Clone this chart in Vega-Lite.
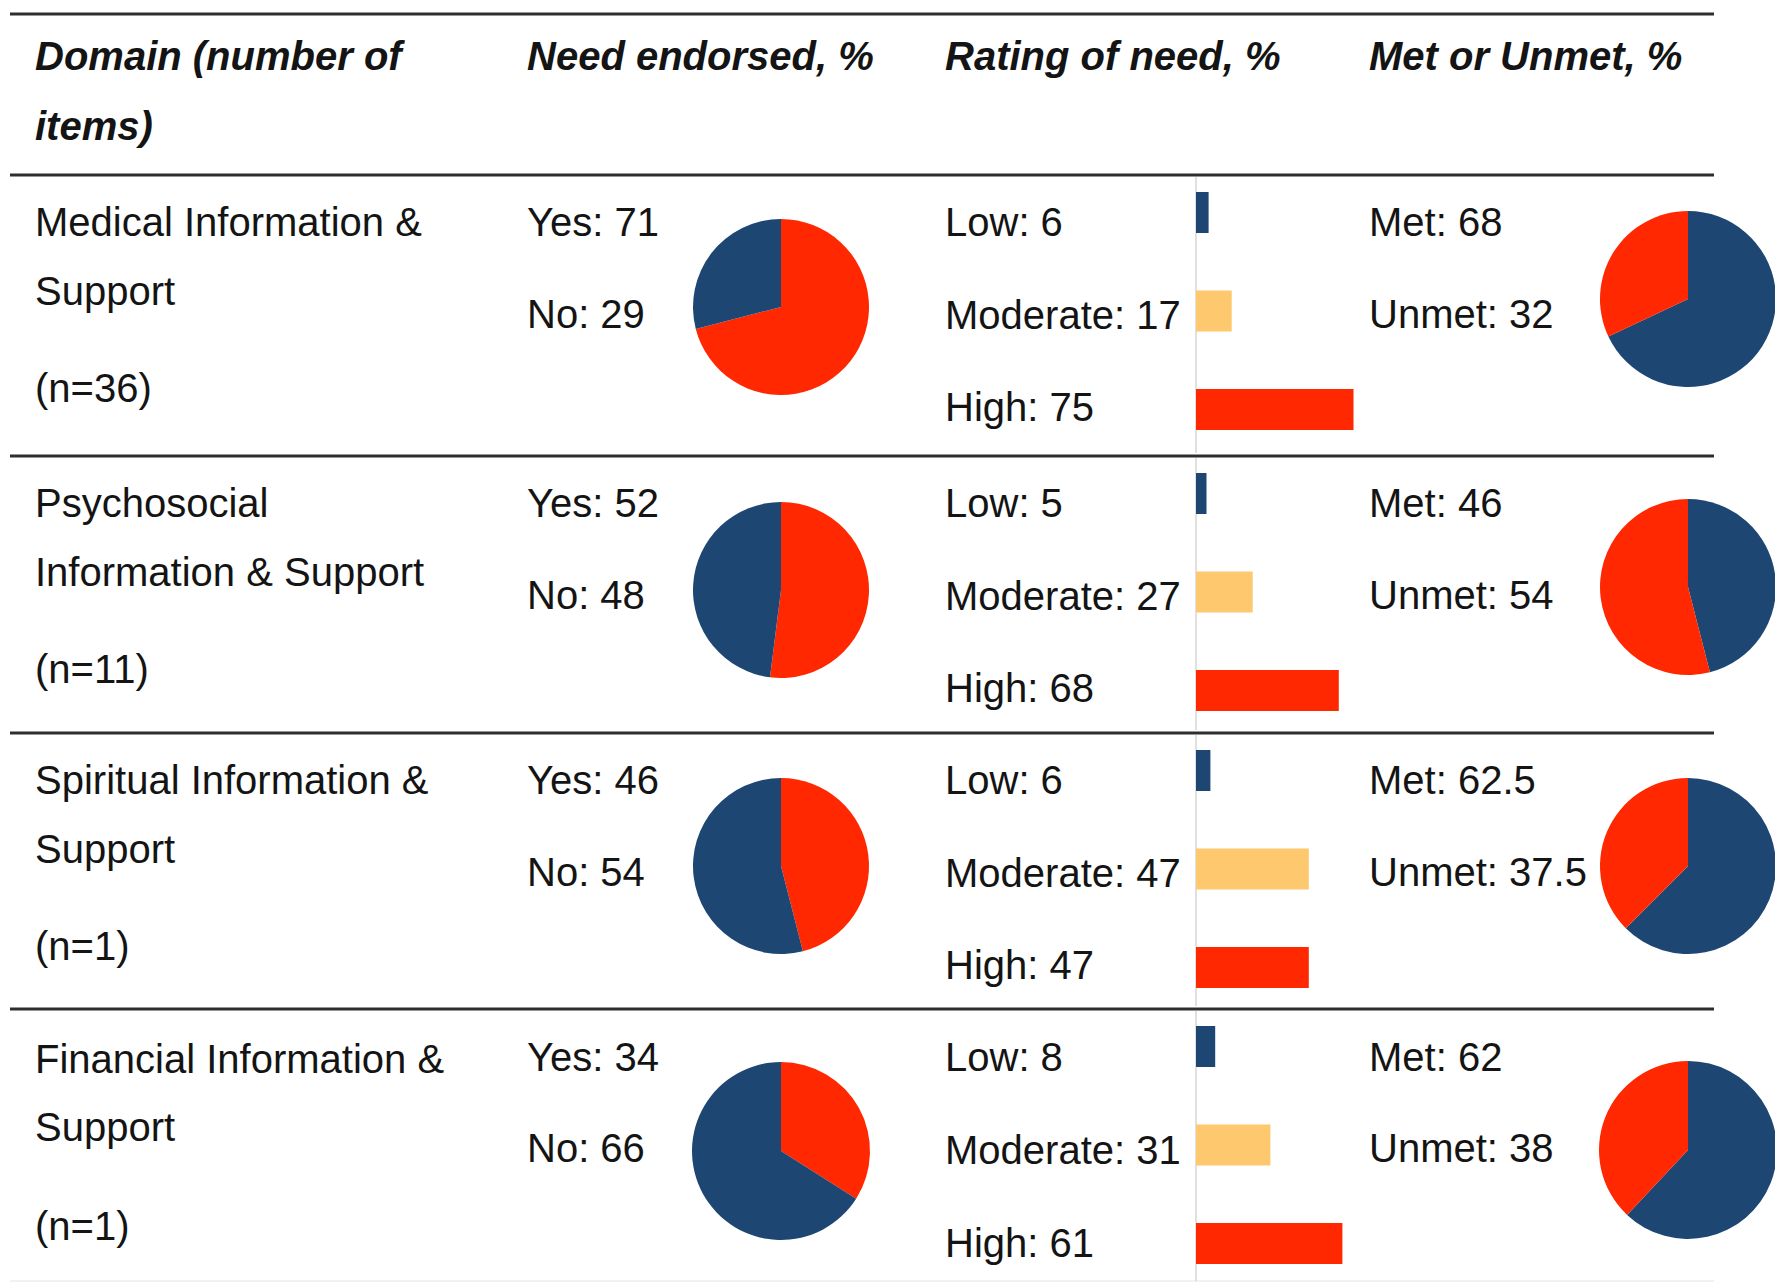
{
  "$schema": "https://vega.github.io/schema/vega-lite/v6.json",
  "padding": {"left": 8, "top": 12, "right": 0, "bottom": 0},
  "background": "white",
  "config": {
    "view": {"stroke": null},
    "concat": {"spacing": 0},
    "text": {"font": "Liberation Sans", "fontSize": 40, "color": "#141414", "align": "left", "baseline": "middle"}
  },
  "datasets": {
    "one": [{}],
    "header": [
      {"col": "domain", "line": "first", "text": "Domain (number of"},
      {"col": "domain", "line": "second", "text": "items)"},
      {"col": "need", "line": "first", "text": "Need endorsed, %"},
      {"col": "rating", "line": "first", "text": "Rating of need, %"},
      {"col": "met", "line": "first", "text": "Met or Unmet, %"}
    ],
    "domains": [
      {"row": 1, "part": "title1", "text": "Medical Information &"},
      {"row": 1, "part": "title2", "text": "Support"},
      {"row": 1, "part": "count", "text": "(n=36)"},
      {"row": 2, "part": "title1", "text": "Psychosocial"},
      {"row": 2, "part": "title2", "text": "Information & Support"},
      {"row": 2, "part": "count", "text": "(n=11)"},
      {"row": 3, "part": "title1", "text": "Spiritual Information &"},
      {"row": 3, "part": "title2", "text": "Support"},
      {"row": 3, "part": "count", "text": "(n=1)"},
      {"row": 4, "part": "title1", "text": "Financial Information &"},
      {"row": 4, "part": "title2", "text": "Support"},
      {"row": 4, "part": "count", "text": "(n=1)"}
    ],
    "endorsed": [
      {"row": 1, "answer": "Yes", "value": 71, "label": "Yes: 71"},
      {"row": 1, "answer": "No", "value": 29, "label": "No: 29"},
      {"row": 2, "answer": "Yes", "value": 52, "label": "Yes: 52"},
      {"row": 2, "answer": "No", "value": 48, "label": "No: 48"},
      {"row": 3, "answer": "Yes", "value": 46, "label": "Yes: 46"},
      {"row": 3, "answer": "No", "value": 54, "label": "No: 54"},
      {"row": 4, "answer": "Yes", "value": 34, "label": "Yes: 34"},
      {"row": 4, "answer": "No", "value": 66, "label": "No: 66"}
    ],
    "rating": [
      {"row": 1, "level": "Low", "value": 6, "label": "Low: 6"},
      {"row": 1, "level": "Moderate", "value": 17, "label": "Moderate: 17"},
      {"row": 1, "level": "High", "value": 75, "label": "High: 75"},
      {"row": 2, "level": "Low", "value": 5, "label": "Low: 5"},
      {"row": 2, "level": "Moderate", "value": 27, "label": "Moderate: 27"},
      {"row": 2, "level": "High", "value": 68, "label": "High: 68"},
      {"row": 3, "level": "Low", "value": 6, "label": "Low: 6"},
      {"row": 3, "level": "Moderate", "value": 47, "label": "Moderate: 47"},
      {"row": 3, "level": "High", "value": 47, "label": "High: 47"},
      {"row": 4, "level": "Low", "value": 8, "label": "Low: 8"},
      {"row": 4, "level": "Moderate", "value": 31, "label": "Moderate: 31"},
      {"row": 4, "level": "High", "value": 61, "label": "High: 61"}
    ],
    "met": [
      {"row": 1, "status": "Met", "value": 68, "label": "Met: 68"},
      {"row": 1, "status": "Unmet", "value": 32, "label": "Unmet: 32"},
      {"row": 2, "status": "Met", "value": 46, "label": "Met: 46"},
      {"row": 2, "status": "Unmet", "value": 54, "label": "Unmet: 54"},
      {"row": 3, "status": "Met", "value": 62.5, "label": "Met: 62.5"},
      {"row": 3, "status": "Unmet", "value": 37.5, "label": "Unmet: 37.5"},
      {"row": 4, "status": "Met", "value": 62, "label": "Met: 62"},
      {"row": 4, "status": "Unmet", "value": 38, "label": "Unmet: 38"}
    ]
  },
  "spacing": 0,
  "resolve": {"scale": {"x": "independent", "y": "independent"}},
  "vconcat": [
    {
      "spacing": 0, "bounds": "flush",
      "resolve": {"scale": {"x": "independent", "y": "independent"}},
      "hconcat": [
        {"width": 497, "height": 159, "layer": [
          {"data": {"name": "one"}, "mark": {"type": "rule", "color": "#2e2e2e", "strokeWidth": 3}, "encoding": {"x": {"value": 0}, "x2": {"value": "width"}, "y": {"value": 0}}},
          {"data": {"name": "header"}, "transform": [{"filter": "datum.col === 'domain'"}], "mark": {"type": "text", "dx": 25, "fontStyle": "italic", "fontWeight": "bold"}, "encoding": {"x": {"value": 0}, "y": {"field": "line", "type": "ordinal", "scale": {"domain": ["first", "second"], "range": [44, 114], "padding": 0}, "axis": null}, "text": {"field": "text"}}}
        ]},
        {"width": 418, "height": 159, "layer": [
          {"data": {"name": "one"}, "mark": {"type": "rule", "color": "#2e2e2e", "strokeWidth": 3}, "encoding": {"x": {"value": 0}, "x2": {"value": "width"}, "y": {"value": 0}}},
          {"data": {"name": "header"}, "transform": [{"filter": "datum.col === 'need'"}], "mark": {"type": "text", "dx": 20, "fontStyle": "italic", "fontWeight": "bold"}, "encoding": {"x": {"value": 0}, "y": {"field": "line", "type": "ordinal", "scale": {"domain": ["first", "second"], "range": [44, 114], "padding": 0}, "axis": null}, "text": {"field": "text"}}}
        ]},
        {"width": 439, "height": 159, "layer": [
          {"data": {"name": "one"}, "mark": {"type": "rule", "color": "#2e2e2e", "strokeWidth": 3}, "encoding": {"x": {"value": 0}, "x2": {"value": "width"}, "y": {"value": 0}}},
          {"data": {"name": "header"}, "transform": [{"filter": "datum.col === 'rating'"}], "mark": {"type": "text", "dx": 20, "fontStyle": "italic", "fontWeight": "bold"}, "encoding": {"x": {"value": 0}, "y": {"field": "line", "type": "ordinal", "scale": {"domain": ["first", "second"], "range": [44, 114], "padding": 0}, "axis": null}, "text": {"field": "text"}}}
        ]},
        {"width": 350, "height": 159, "layer": [
          {"data": {"name": "one"}, "mark": {"type": "rule", "color": "#2e2e2e", "strokeWidth": 3}, "encoding": {"x": {"value": 0}, "x2": {"value": "width"}, "y": {"value": 0}}},
          {"data": {"name": "header"}, "transform": [{"filter": "datum.col === 'met'"}], "mark": {"type": "text", "dx": 5, "fontStyle": "italic", "fontWeight": "bold"}, "encoding": {"x": {"value": 0}, "y": {"field": "line", "type": "ordinal", "scale": {"domain": ["first", "second"], "range": [44, 114], "padding": 0}, "axis": null}, "text": {"field": "text"}}}
        ]}
      ]
    },
    {
      "spacing": 0, "bounds": "flush",
      "resolve": {"scale": {"x": "independent", "y": "independent"}},
      "hconcat": [
        {"width": 497, "height": 278, "resolve": {"scale": {"y": "independent"}}, "layer": [
          {"data": {"name": "one"}, "mark": {"type": "rule", "color": "#2e2e2e", "strokeWidth": 3}, "encoding": {"x": {"value": 0}, "x2": {"value": "width"}, "y": {"value": 0}}},
          {"data": {"name": "domains"}, "transform": [{"filter": "datum.row === 1 && datum.part !== 'count'"}], "mark": {"type": "text", "dx": 25}, "encoding": {"x": {"value": 0}, "y": {"field": "part", "type": "ordinal", "scale": {"domain": ["title1", "title2"], "range": [49, 118], "padding": 0}, "axis": null}, "text": {"field": "text"}}},
          {"data": {"name": "domains"}, "transform": [{"filter": "datum.row === 1 && datum.part === 'count'"}], "mark": {"type": "text", "dx": 25}, "encoding": {"x": {"value": 0}, "y": {"field": "part", "type": "ordinal", "scale": {"domain": ["count"], "range": [215, 215], "padding": 0}, "axis": null}, "text": {"field": "text"}}}
        ]},
        {"width": 418, "height": 278, "layer": [
          {"data": {"name": "one"}, "mark": {"type": "rule", "color": "#2e2e2e", "strokeWidth": 3}, "encoding": {"x": {"value": 0}, "x2": {"value": "width"}, "y": {"value": 0}}},
          {"data": {"name": "endorsed"}, "transform": [{"filter": "datum.row === 1"}], "mark": {"type": "text", "dx": 20}, "encoding": {"x": {"value": 0}, "y": {"field": "answer", "type": "ordinal", "scale": {"domain": ["Yes", "No"], "range": [49, 141], "padding": 0}, "axis": null}, "text": {"field": "label"}}},
          {"data": {"name": "endorsed"}, "transform": [{"filter": "datum.row === 1"}], "mark": {"type": "arc", "outerRadius": 88, "x": 274, "y": 132}, "encoding": {"theta": {"field": "value", "type": "quantitative", "stack": true, "scale": {"domain": [0, 100]}}, "color": {"field": "answer", "type": "nominal", "scale": {"domain": ["Yes", "No", "Low", "Moderate", "High", "Met", "Unmet"], "range": ["#ff2800", "#1e4673", "#1e4673", "#fdc86e", "#ff2800", "#1e4673", "#ff2800"]}, "legend": null}, "order": {"field": "answer", "sort": "descending"}}}
        ]},
        {"width": 271, "height": 278, "layer": [
          {"data": {"name": "one"}, "mark": {"type": "rule", "color": "#2e2e2e", "strokeWidth": 3}, "encoding": {"x": {"value": 0}, "x2": {"value": "width"}, "y": {"value": 0}}},
          {"data": {"name": "rating"}, "transform": [{"filter": "datum.row === 1"}], "mark": {"type": "text", "dx": 20}, "encoding": {"x": {"value": 0}, "y": {"field": "level", "type": "ordinal", "scale": {"domain": ["Low", "Moderate", "High"], "range": [49, 234], "padding": 0}, "axis": null}, "text": {"field": "label"}}}
        ]},
        {"width": 168, "height": 278, "layer": [
          {"data": {"name": "one"}, "mark": {"type": "rule", "color": "#2e2e2e", "strokeWidth": 3}, "encoding": {"x": {"value": 0}, "x2": {"value": "width"}, "y": {"value": 0}}},
          {"data": {"name": "one"}, "mark": {"type": "rule", "color": "#d6d6d6", "strokeWidth": 1.5}, "encoding": {"x": {"value": 0}, "y": {"value": 2}, "y2": {"value": "height"}}},
          {"data": {"name": "rating"}, "transform": [{"filter": "datum.row === 1"}], "mark": {"type": "bar"}, "encoding": {"x": {"field": "value", "type": "quantitative", "scale": {"domain": [0, 80]}, "axis": null}, "y": {"field": "level", "type": "nominal", "scale": {"domain": ["Low", "Moderate", "High"], "range": [17, 255], "paddingInner": 0.584, "paddingOuter": 0}, "axis": null}, "color": {"field": "level", "type": "nominal", "scale": {"domain": ["Yes", "No", "Low", "Moderate", "High", "Met", "Unmet"], "range": ["#ff2800", "#1e4673", "#1e4673", "#fdc86e", "#ff2800", "#1e4673", "#ff2800"]}, "legend": null}}}
        ]},
        {"width": 350, "height": 278, "layer": [
          {"data": {"name": "one"}, "mark": {"type": "rule", "color": "#2e2e2e", "strokeWidth": 3}, "encoding": {"x": {"value": 0}, "x2": {"value": "width"}, "y": {"value": 0}}},
          {"data": {"name": "met"}, "transform": [{"filter": "datum.row === 1"}], "mark": {"type": "text", "dx": 5}, "encoding": {"x": {"value": 0}, "y": {"field": "status", "type": "ordinal", "scale": {"domain": ["Met", "Unmet"], "range": [49, 141], "padding": 0}, "axis": null}, "text": {"field": "label"}}},
          {"data": {"name": "met"}, "transform": [{"filter": "datum.row === 1"}], "mark": {"type": "arc", "outerRadius": 88, "x": 324, "y": 124}, "encoding": {"theta": {"field": "value", "type": "quantitative", "stack": true, "scale": {"domain": [0, 100]}}, "color": {"field": "status", "type": "nominal", "scale": {"domain": ["Yes", "No", "Low", "Moderate", "High", "Met", "Unmet"], "range": ["#ff2800", "#1e4673", "#1e4673", "#fdc86e", "#ff2800", "#1e4673", "#ff2800"]}, "legend": null}, "order": {"field": "status", "sort": "ascending"}}}
        ]}
      ]
    },
    {
      "spacing": 0, "bounds": "flush",
      "resolve": {"scale": {"x": "independent", "y": "independent"}},
      "hconcat": [
        {"width": 497, "height": 274, "resolve": {"scale": {"y": "independent"}}, "layer": [
          {"data": {"name": "one"}, "mark": {"type": "rule", "color": "#2e2e2e", "strokeWidth": 3}, "encoding": {"x": {"value": 0}, "x2": {"value": "width"}, "y": {"value": 0}}},
          {"data": {"name": "domains"}, "transform": [{"filter": "datum.row === 2 && datum.part !== 'count'"}], "mark": {"type": "text", "dx": 25}, "encoding": {"x": {"value": 0}, "y": {"field": "part", "type": "ordinal", "scale": {"domain": ["title1", "title2"], "range": [49, 118], "padding": 0}, "axis": null}, "text": {"field": "text"}}},
          {"data": {"name": "domains"}, "transform": [{"filter": "datum.row === 2 && datum.part === 'count'"}], "mark": {"type": "text", "dx": 25}, "encoding": {"x": {"value": 0}, "y": {"field": "part", "type": "ordinal", "scale": {"domain": ["count"], "range": [215, 215], "padding": 0}, "axis": null}, "text": {"field": "text"}}}
        ]},
        {"width": 418, "height": 274, "layer": [
          {"data": {"name": "one"}, "mark": {"type": "rule", "color": "#2e2e2e", "strokeWidth": 3}, "encoding": {"x": {"value": 0}, "x2": {"value": "width"}, "y": {"value": 0}}},
          {"data": {"name": "endorsed"}, "transform": [{"filter": "datum.row === 2"}], "mark": {"type": "text", "dx": 20}, "encoding": {"x": {"value": 0}, "y": {"field": "answer", "type": "ordinal", "scale": {"domain": ["Yes", "No"], "range": [49, 141], "padding": 0}, "axis": null}, "text": {"field": "label"}}},
          {"data": {"name": "endorsed"}, "transform": [{"filter": "datum.row === 2"}], "mark": {"type": "arc", "outerRadius": 88, "x": 274, "y": 134}, "encoding": {"theta": {"field": "value", "type": "quantitative", "stack": true, "scale": {"domain": [0, 100]}}, "color": {"field": "answer", "type": "nominal", "scale": {"domain": ["Yes", "No", "Low", "Moderate", "High", "Met", "Unmet"], "range": ["#ff2800", "#1e4673", "#1e4673", "#fdc86e", "#ff2800", "#1e4673", "#ff2800"]}, "legend": null}, "order": {"field": "answer", "sort": "descending"}}}
        ]},
        {"width": 271, "height": 274, "layer": [
          {"data": {"name": "one"}, "mark": {"type": "rule", "color": "#2e2e2e", "strokeWidth": 3}, "encoding": {"x": {"value": 0}, "x2": {"value": "width"}, "y": {"value": 0}}},
          {"data": {"name": "rating"}, "transform": [{"filter": "datum.row === 2"}], "mark": {"type": "text", "dx": 20}, "encoding": {"x": {"value": 0}, "y": {"field": "level", "type": "ordinal", "scale": {"domain": ["Low", "Moderate", "High"], "range": [49, 234], "padding": 0}, "axis": null}, "text": {"field": "label"}}}
        ]},
        {"width": 168, "height": 274, "layer": [
          {"data": {"name": "one"}, "mark": {"type": "rule", "color": "#2e2e2e", "strokeWidth": 3}, "encoding": {"x": {"value": 0}, "x2": {"value": "width"}, "y": {"value": 0}}},
          {"data": {"name": "one"}, "mark": {"type": "rule", "color": "#d6d6d6", "strokeWidth": 1.5}, "encoding": {"x": {"value": 0}, "y": {"value": 2}, "y2": {"value": "height"}}},
          {"data": {"name": "rating"}, "transform": [{"filter": "datum.row === 2"}], "mark": {"type": "bar"}, "encoding": {"x": {"field": "value", "type": "quantitative", "scale": {"domain": [0, 80]}, "axis": null}, "y": {"field": "level", "type": "nominal", "scale": {"domain": ["Low", "Moderate", "High"], "range": [17, 255], "paddingInner": 0.584, "paddingOuter": 0}, "axis": null}, "color": {"field": "level", "type": "nominal", "scale": {"domain": ["Yes", "No", "Low", "Moderate", "High", "Met", "Unmet"], "range": ["#ff2800", "#1e4673", "#1e4673", "#fdc86e", "#ff2800", "#1e4673", "#ff2800"]}, "legend": null}}}
        ]},
        {"width": 350, "height": 274, "layer": [
          {"data": {"name": "one"}, "mark": {"type": "rule", "color": "#2e2e2e", "strokeWidth": 3}, "encoding": {"x": {"value": 0}, "x2": {"value": "width"}, "y": {"value": 0}}},
          {"data": {"name": "met"}, "transform": [{"filter": "datum.row === 2"}], "mark": {"type": "text", "dx": 5}, "encoding": {"x": {"value": 0}, "y": {"field": "status", "type": "ordinal", "scale": {"domain": ["Met", "Unmet"], "range": [49, 141], "padding": 0}, "axis": null}, "text": {"field": "label"}}},
          {"data": {"name": "met"}, "transform": [{"filter": "datum.row === 2"}], "mark": {"type": "arc", "outerRadius": 88, "x": 324, "y": 131}, "encoding": {"theta": {"field": "value", "type": "quantitative", "stack": true, "scale": {"domain": [0, 100]}}, "color": {"field": "status", "type": "nominal", "scale": {"domain": ["Yes", "No", "Low", "Moderate", "High", "Met", "Unmet"], "range": ["#ff2800", "#1e4673", "#1e4673", "#fdc86e", "#ff2800", "#1e4673", "#ff2800"]}, "legend": null}, "order": {"field": "status", "sort": "ascending"}}}
        ]}
      ]
    },
    {
      "spacing": 0, "bounds": "flush",
      "resolve": {"scale": {"x": "independent", "y": "independent"}},
      "hconcat": [
        {"width": 497, "height": 273, "resolve": {"scale": {"y": "independent"}}, "layer": [
          {"data": {"name": "one"}, "mark": {"type": "rule", "color": "#2e2e2e", "strokeWidth": 3}, "encoding": {"x": {"value": 0}, "x2": {"value": "width"}, "y": {"value": 0}}},
          {"data": {"name": "domains"}, "transform": [{"filter": "datum.row === 3 && datum.part !== 'count'"}], "mark": {"type": "text", "dx": 25}, "encoding": {"x": {"value": 0}, "y": {"field": "part", "type": "ordinal", "scale": {"domain": ["title1", "title2"], "range": [49, 118], "padding": 0}, "axis": null}, "text": {"field": "text"}}},
          {"data": {"name": "domains"}, "transform": [{"filter": "datum.row === 3 && datum.part === 'count'"}], "mark": {"type": "text", "dx": 25}, "encoding": {"x": {"value": 0}, "y": {"field": "part", "type": "ordinal", "scale": {"domain": ["count"], "range": [215, 215], "padding": 0}, "axis": null}, "text": {"field": "text"}}}
        ]},
        {"width": 418, "height": 273, "layer": [
          {"data": {"name": "one"}, "mark": {"type": "rule", "color": "#2e2e2e", "strokeWidth": 3}, "encoding": {"x": {"value": 0}, "x2": {"value": "width"}, "y": {"value": 0}}},
          {"data": {"name": "endorsed"}, "transform": [{"filter": "datum.row === 3"}], "mark": {"type": "text", "dx": 20}, "encoding": {"x": {"value": 0}, "y": {"field": "answer", "type": "ordinal", "scale": {"domain": ["Yes", "No"], "range": [49, 141], "padding": 0}, "axis": null}, "text": {"field": "label"}}},
          {"data": {"name": "endorsed"}, "transform": [{"filter": "datum.row === 3"}], "mark": {"type": "arc", "outerRadius": 88, "x": 274, "y": 133}, "encoding": {"theta": {"field": "value", "type": "quantitative", "stack": true, "scale": {"domain": [0, 100]}}, "color": {"field": "answer", "type": "nominal", "scale": {"domain": ["Yes", "No", "Low", "Moderate", "High", "Met", "Unmet"], "range": ["#ff2800", "#1e4673", "#1e4673", "#fdc86e", "#ff2800", "#1e4673", "#ff2800"]}, "legend": null}, "order": {"field": "answer", "sort": "descending"}}}
        ]},
        {"width": 271, "height": 273, "layer": [
          {"data": {"name": "one"}, "mark": {"type": "rule", "color": "#2e2e2e", "strokeWidth": 3}, "encoding": {"x": {"value": 0}, "x2": {"value": "width"}, "y": {"value": 0}}},
          {"data": {"name": "rating"}, "transform": [{"filter": "datum.row === 3"}], "mark": {"type": "text", "dx": 20}, "encoding": {"x": {"value": 0}, "y": {"field": "level", "type": "ordinal", "scale": {"domain": ["Low", "Moderate", "High"], "range": [49, 234], "padding": 0}, "axis": null}, "text": {"field": "label"}}}
        ]},
        {"width": 168, "height": 273, "layer": [
          {"data": {"name": "one"}, "mark": {"type": "rule", "color": "#2e2e2e", "strokeWidth": 3}, "encoding": {"x": {"value": 0}, "x2": {"value": "width"}, "y": {"value": 0}}},
          {"data": {"name": "one"}, "mark": {"type": "rule", "color": "#d6d6d6", "strokeWidth": 1.5}, "encoding": {"x": {"value": 0}, "y": {"value": 2}, "y2": {"value": "height"}}},
          {"data": {"name": "rating"}, "transform": [{"filter": "datum.row === 3"}], "mark": {"type": "bar"}, "encoding": {"x": {"field": "value", "type": "quantitative", "scale": {"domain": [0, 70]}, "axis": null}, "y": {"field": "level", "type": "nominal", "scale": {"domain": ["Low", "Moderate", "High"], "range": [17, 255], "paddingInner": 0.584, "paddingOuter": 0}, "axis": null}, "color": {"field": "level", "type": "nominal", "scale": {"domain": ["Yes", "No", "Low", "Moderate", "High", "Met", "Unmet"], "range": ["#ff2800", "#1e4673", "#1e4673", "#fdc86e", "#ff2800", "#1e4673", "#ff2800"]}, "legend": null}}}
        ]},
        {"width": 350, "height": 273, "layer": [
          {"data": {"name": "one"}, "mark": {"type": "rule", "color": "#2e2e2e", "strokeWidth": 3}, "encoding": {"x": {"value": 0}, "x2": {"value": "width"}, "y": {"value": 0}}},
          {"data": {"name": "met"}, "transform": [{"filter": "datum.row === 3"}], "mark": {"type": "text", "dx": 5}, "encoding": {"x": {"value": 0}, "y": {"field": "status", "type": "ordinal", "scale": {"domain": ["Met", "Unmet"], "range": [49, 141], "padding": 0}, "axis": null}, "text": {"field": "label"}}},
          {"data": {"name": "met"}, "transform": [{"filter": "datum.row === 3"}], "mark": {"type": "arc", "outerRadius": 88, "x": 324, "y": 133}, "encoding": {"theta": {"field": "value", "type": "quantitative", "stack": true, "scale": {"domain": [0, 100]}}, "color": {"field": "status", "type": "nominal", "scale": {"domain": ["Yes", "No", "Low", "Moderate", "High", "Met", "Unmet"], "range": ["#ff2800", "#1e4673", "#1e4673", "#fdc86e", "#ff2800", "#1e4673", "#ff2800"]}, "legend": null}, "order": {"field": "status", "sort": "ascending"}}}
        ]}
      ]
    },
    {
      "spacing": 0, "bounds": "flush",
      "resolve": {"scale": {"x": "independent", "y": "independent"}},
      "hconcat": [
        {"width": 497, "height": 272, "resolve": {"scale": {"y": "independent"}}, "layer": [
          {"data": {"name": "one"}, "mark": {"type": "rule", "color": "#2e2e2e", "strokeWidth": 3}, "encoding": {"x": {"value": 0}, "x2": {"value": "width"}, "y": {"value": 0}}},
          {"data": {"name": "one"}, "mark": {"type": "rule", "color": "#e4e4e4", "strokeWidth": 1}, "encoding": {"x": {"value": 0}, "x2": {"value": "width"}, "y": {"value": "height"}}},
          {"data": {"name": "domains"}, "transform": [{"filter": "datum.row === 4 && datum.part !== 'count'"}], "mark": {"type": "text", "dx": 25}, "encoding": {"x": {"value": 0}, "y": {"field": "part", "type": "ordinal", "scale": {"domain": ["title1", "title2"], "range": [52, 120], "padding": 0}, "axis": null}, "text": {"field": "text"}}},
          {"data": {"name": "domains"}, "transform": [{"filter": "datum.row === 4 && datum.part === 'count'"}], "mark": {"type": "text", "dx": 25}, "encoding": {"x": {"value": 0}, "y": {"field": "part", "type": "ordinal", "scale": {"domain": ["count"], "range": [219, 219], "padding": 0}, "axis": null}, "text": {"field": "text"}}}
        ]},
        {"width": 418, "height": 272, "layer": [
          {"data": {"name": "one"}, "mark": {"type": "rule", "color": "#2e2e2e", "strokeWidth": 3}, "encoding": {"x": {"value": 0}, "x2": {"value": "width"}, "y": {"value": 0}}},
          {"data": {"name": "one"}, "mark": {"type": "rule", "color": "#e4e4e4", "strokeWidth": 1}, "encoding": {"x": {"value": 0}, "x2": {"value": "width"}, "y": {"value": "height"}}},
          {"data": {"name": "endorsed"}, "transform": [{"filter": "datum.row === 4"}], "mark": {"type": "text", "dx": 20}, "encoding": {"x": {"value": 0}, "y": {"field": "answer", "type": "ordinal", "scale": {"domain": ["Yes", "No"], "range": [50, 141], "padding": 0}, "axis": null}, "text": {"field": "label"}}},
          {"data": {"name": "endorsed"}, "transform": [{"filter": "datum.row === 4"}], "mark": {"type": "arc", "outerRadius": 89, "x": 274, "y": 142}, "encoding": {"theta": {"field": "value", "type": "quantitative", "stack": true, "scale": {"domain": [0, 100]}}, "color": {"field": "answer", "type": "nominal", "scale": {"domain": ["Yes", "No", "Low", "Moderate", "High", "Met", "Unmet"], "range": ["#ff2800", "#1e4673", "#1e4673", "#fdc86e", "#ff2800", "#1e4673", "#ff2800"]}, "legend": null}, "order": {"field": "answer", "sort": "descending"}}}
        ]},
        {"width": 271, "height": 272, "layer": [
          {"data": {"name": "one"}, "mark": {"type": "rule", "color": "#2e2e2e", "strokeWidth": 3}, "encoding": {"x": {"value": 0}, "x2": {"value": "width"}, "y": {"value": 0}}},
          {"data": {"name": "one"}, "mark": {"type": "rule", "color": "#e4e4e4", "strokeWidth": 1}, "encoding": {"x": {"value": 0}, "x2": {"value": "width"}, "y": {"value": "height"}}},
          {"data": {"name": "rating"}, "transform": [{"filter": "datum.row === 4"}], "mark": {"type": "text", "dx": 20}, "encoding": {"x": {"value": 0}, "y": {"field": "level", "type": "ordinal", "scale": {"domain": ["Low", "Moderate", "High"], "range": [50, 236], "padding": 0}, "axis": null}, "text": {"field": "label"}}}
        ]},
        {"width": 168, "height": 272, "layer": [
          {"data": {"name": "one"}, "mark": {"type": "rule", "color": "#2e2e2e", "strokeWidth": 3}, "encoding": {"x": {"value": 0}, "x2": {"value": "width"}, "y": {"value": 0}}},
          {"data": {"name": "one"}, "mark": {"type": "rule", "color": "#e4e4e4", "strokeWidth": 1}, "encoding": {"x": {"value": 0}, "x2": {"value": "width"}, "y": {"value": "height"}}},
          {"data": {"name": "one"}, "mark": {"type": "rule", "color": "#d6d6d6", "strokeWidth": 1.5}, "encoding": {"x": {"value": 0}, "y": {"value": 2}, "y2": {"value": "height"}}},
          {"data": {"name": "rating"}, "transform": [{"filter": "datum.row === 4"}], "mark": {"type": "bar"}, "encoding": {"x": {"field": "value", "type": "quantitative", "scale": {"domain": [0, 70]}, "axis": null}, "y": {"field": "level", "type": "nominal", "scale": {"domain": ["Low", "Moderate", "High"], "range": [17, 255], "paddingInner": 0.584, "paddingOuter": 0}, "axis": null}, "color": {"field": "level", "type": "nominal", "scale": {"domain": ["Yes", "No", "Low", "Moderate", "High", "Met", "Unmet"], "range": ["#ff2800", "#1e4673", "#1e4673", "#fdc86e", "#ff2800", "#1e4673", "#ff2800"]}, "legend": null}}}
        ]},
        {"width": 350, "height": 272, "layer": [
          {"data": {"name": "one"}, "mark": {"type": "rule", "color": "#2e2e2e", "strokeWidth": 3}, "encoding": {"x": {"value": 0}, "x2": {"value": "width"}, "y": {"value": 0}}},
          {"data": {"name": "one"}, "mark": {"type": "rule", "color": "#e4e4e4", "strokeWidth": 1}, "encoding": {"x": {"value": 0}, "x2": {"value": "width"}, "y": {"value": "height"}}},
          {"data": {"name": "met"}, "transform": [{"filter": "datum.row === 4"}], "mark": {"type": "text", "dx": 5}, "encoding": {"x": {"value": 0}, "y": {"field": "status", "type": "ordinal", "scale": {"domain": ["Met", "Unmet"], "range": [50, 141], "padding": 0}, "axis": null}, "text": {"field": "label"}}},
          {"data": {"name": "met"}, "transform": [{"filter": "datum.row === 4"}], "mark": {"type": "arc", "outerRadius": 89, "x": 324, "y": 141}, "encoding": {"theta": {"field": "value", "type": "quantitative", "stack": true, "scale": {"domain": [0, 100]}}, "color": {"field": "status", "type": "nominal", "scale": {"domain": ["Yes", "No", "Low", "Moderate", "High", "Met", "Unmet"], "range": ["#ff2800", "#1e4673", "#1e4673", "#fdc86e", "#ff2800", "#1e4673", "#ff2800"]}, "legend": null}, "order": {"field": "status", "sort": "ascending"}}}
        ]}
      ]
    }
  ]
}
